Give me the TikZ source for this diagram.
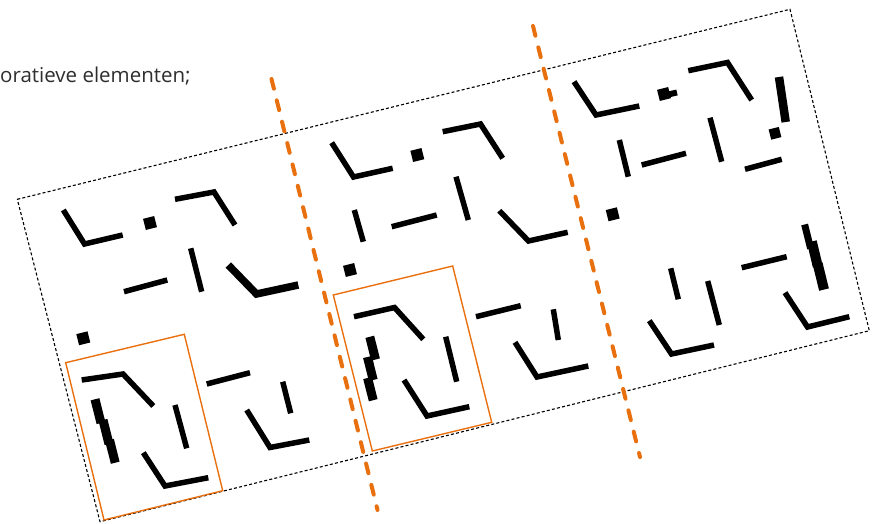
\documentclass[tikz,border=0pt]{standalone}
\usepackage{fontspec}
\newfontfamily\labelfont{Open Sans}
\definecolor{rvo}{HTML}{E8700F}
\definecolor{txtgray}{HTML}{2E2E2E}
\tikzset{
  blk/.style={draw=black, line width=5.5pt, line cap=butt, line join=miter},
  thick blk/.style={blk, line width=7.5pt},
  piece/.style={blk, line width=9pt},
  sq/.style={fill=black, draw=none, inner sep=0pt, minimum size=11.5pt, rotate=14},
  framebox/.style={draw=black, line width=1.1pt, dash pattern=on 3pt off 2.2pt},
  hilite/.style={draw=rvo, line width=1.4pt, line join=miter},
  divider/.style={draw=rvo, line width=4pt, line cap=round, dash pattern=on 10pt off 12pt}
}
\begin{document}
\begin{tikzpicture}[x=1pt,y=-1pt]
\useasboundingbox (0,0) rectangle (876,524);

% caption text
\node[anchor=base west, inner sep=0pt, text=txtgray, font=\labelfont\fontsize{20.5}{24}\selectfont] (txt) at (0,82.3) {oratieve elementen;};

% dotted frame
\draw[framebox] (17.3,199.3) -- (790,9.3) -- (869.3,330.7) -- (100,521.7) -- cycle;

% ---------- panel 1 ----------
\draw[blk] (63.3,210) -- (84.5,244) -- (122.7,235);
\node[sq] (p1s1) at (150,223) {};
\draw[blk] (175,199.3) -- (214,192) -- (235,225);
\draw[blk] (124,291.7) -- (167.3,280);
\draw[blk] (190.7,248.3) -- (201.7,291.7);
\draw[thick blk] (228.3,265) -- (256.5,294) -- (298.3,285);
\node[sq] (p1s2) at (83.3,338.3) {};
\draw[blk] (81.7,380) -- (123,374) -- (153.3,406);
\draw[piece] (95.0,399.3) -- (101.0,423.0);
\draw[piece] (103.0,420.0) -- (109.0,444.0);
\draw[piece] (109.5,440.0) -- (115.2,462.7);
\draw[blk] (175,405) -- (186.7,448.3);
\draw[blk] (143.3,452.7) -- (165,486) -- (208.3,477.7);
\draw[blk] (206.7,384) -- (250,372.7);
\draw[blk] (282.7,381.7) -- (290.7,413.3);
\draw[blk] (246.7,410) -- (270,447.5) -- (309.3,440);
\draw[hilite] (65.7,362.7) -- (184.3,334.3) -- (222.7,490.7) -- (104,520) -- cycle;

% ---------- panel 2 ----------
\draw[blk] (331.7,142.7) -- (353.5,177) -- (392.7,168.3);
\node[sq] (p2s1) at (417.3,155) {};
\draw[blk] (442.7,131.7) -- (480.5,124) -- (502.7,158.3);
\draw[blk] (354.3,210) -- (363.3,241.7);
\draw[blk] (391.7,226.7) -- (436.7,215);
\draw[blk] (456,176.7) -- (468.3,220);
\draw[blk] (499.3,210.7) -- (528.5,241) -- (567.7,232.3);
\node[sq] (p2s2) at (350,270) {};
\draw[blk] (354,316.7) -- (394.5,307.5) -- (423.3,339.3);
\draw[piece] (369.8,336.8) -- (375.5,359.5);
\draw[piece] (367.5,357.0) -- (373.2,380.0);
\draw[piece] (367.6,378.0) -- (373.2,400.2);
\draw[blk] (445.7,336.7) -- (456.7,381.7);
\draw[blk] (404,380) -- (427,416) -- (469.3,406.7);
\draw[blk] (476,316.7) -- (520.7,305.7);
\draw[blk] (553.3,309.3) -- (558.3,340);
\draw[blk] (515,342.3) -- (537,377) -- (588.3,366);
\draw[hilite] (333.3,295) -- (452.7,266) -- (491.7,422.3) -- (372.3,451) -- cycle;

% ---------- panel 3 ----------
\draw[blk] (574,81.7) -- (596,115) -- (639.3,106);
\node[sq] (p3s1) at (664,94) {};
\draw[blk, line width=6pt] (666,95) -- (677,92.5);
\draw[blk] (688.3,70.7) -- (727.5,62.5) -- (751.7,100);
\draw[blk, line width=8.5pt] (779,77) -- (785.7,122);
\node[sq, minimum size=10.5pt] (p3s2) at (775,133.3) {};
\draw[blk] (619.3,140) -- (628.3,176.7);
\draw[blk] (641.7,165) -- (686,153.3);
\draw[blk] (710,117.7) -- (721.7,161.7);
\draw[blk] (745,169.3) -- (781.7,159.3);
\node[sq] (p3s3) at (612.7,214.3) {};
\draw[blk] (670.7,268.3) -- (678.3,299.3);
\draw[blk] (707.7,281) -- (719.3,325);
\draw[blk] (649.3,320.7) -- (671.5,354) -- (714,345);
\draw[blk] (741.7,267.7) -- (786.7,256.7);
\draw[blk, line width=7pt] (804.6,224.5) -- (810.6,248.5);
\draw[blk, line width=10pt] (811.8,241.5) -- (817.8,266.5);
\draw[blk, line width=10pt] (817.6,263.5) -- (824,289.6);
\draw[blk] (785,292.7) -- (807.5,327) -- (849.3,316.7);

% orange dividers
\coordinate (d1a) at (271.5,79);
\coordinate (d1b) at (377.5,510);
\coordinate (d2a) at (533,26);
\coordinate (d2b) at (640,457);
\draw[divider] (d1a) -- (d1b);
\draw[divider] (d2a) -- (d2b);
\end{tikzpicture}
\end{document}
